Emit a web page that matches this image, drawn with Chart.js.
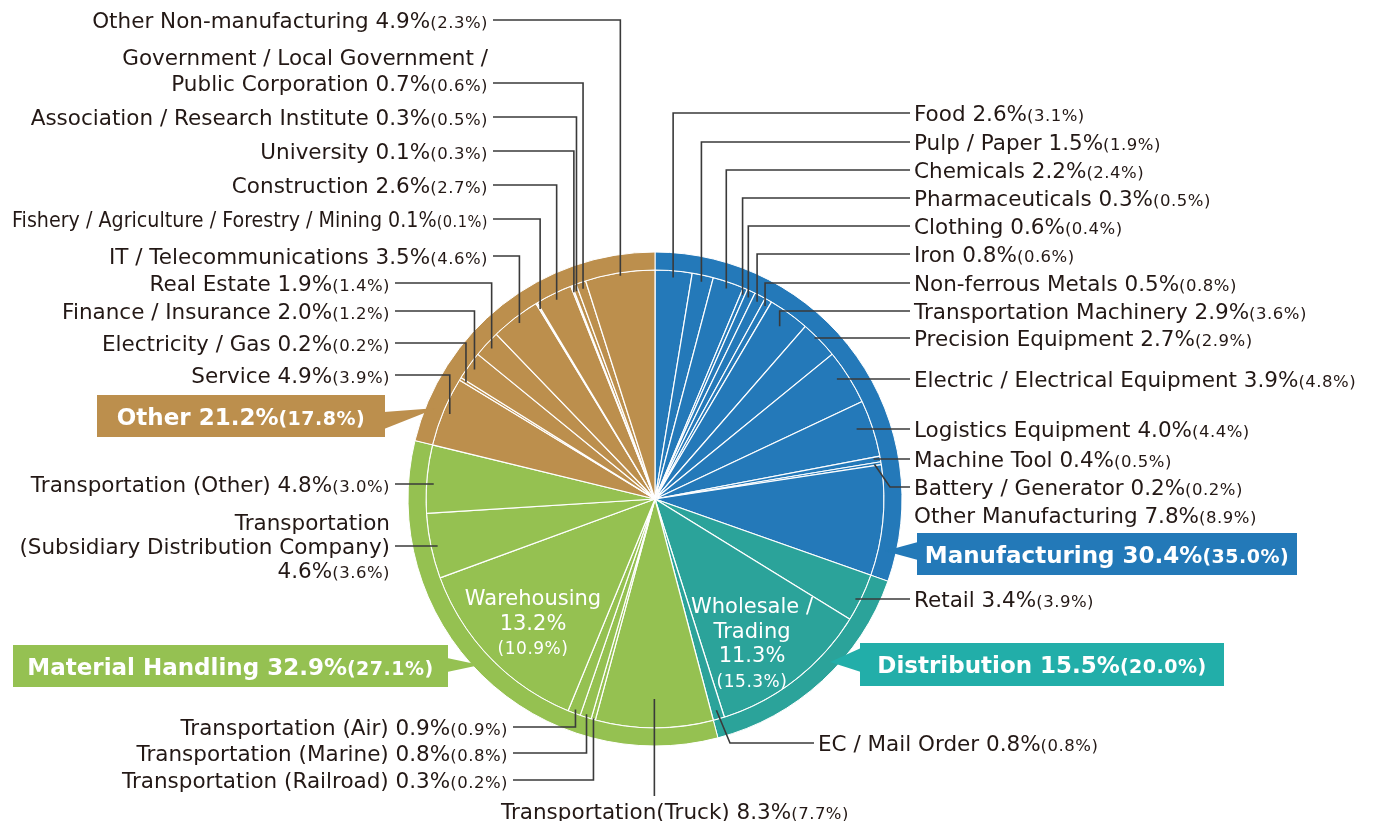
<!DOCTYPE html>
<html>
<head>
<meta charset="utf-8">
<script src="https://cdn.jsdelivr.net/npm/chart.js@4.4.0/dist/chart.umd.min.js"></script>
<style>
html, body { margin: 0; padding: 0; background: #fff; }
#wrap { width: 1386px; height: 821px; }
</style>
</head>
<body>
<div id="wrap"><canvas id="pieChart" width="1386" height="821"></canvas></div>
<script>
// groups (outer ring)
const groups = ['Manufacturing', 'Distribution', 'Material Handling', 'Other'];
const groupShares = [30.4, 15.5, 32.9, 21.2];
const groupPrev = [35.0, 20.0, 27.1, 17.8];

// categories (inner pie), clockwise from 12 o'clock
const categories = [
  'Food', 'Pulp / Paper', 'Chemicals', 'Pharmaceuticals', 'Clothing', 'Iron', 'Non-ferrous Metals',
  'Transportation Machinery', 'Precision Equipment', 'Electric / Electrical Equipment', 'Logistics Equipment',
  'Machine Tool', 'Battery / Generator', 'Other Manufacturing',
  'Retail', 'Wholesale /\nTrading', 'EC / Mail Order',
  'Transportation(Truck)', 'Transportation (Railroad)', 'Transportation (Marine)', 'Transportation (Air)',
  'Warehousing', 'Transportation\n(Subsidiary Distribution Company)', 'Transportation (Other)',
  'Service', 'Electricity / Gas', 'Finance / Insurance', 'Real Estate', 'IT / Telecommunications',
  'Fishery / Agriculture / Forestry / Mining', 'Construction', 'University', 'Association / Research Institute',
  'Government / Local Government /\nPublic Corporation', 'Other Non-manufacturing'
];
const shares = [2.6, 1.5, 2.2, 0.3, 0.6, 0.8, 0.5, 2.9, 2.7, 3.9, 4.0, 0.4, 0.2, 7.8,
  3.4, 11.3, 0.8,
  8.3, 0.3, 0.8, 0.9, 13.2, 4.6, 4.8,
  4.9, 0.2, 2.0, 1.9, 3.5, 0.1, 2.6, 0.1, 0.3, 0.7, 4.9];
const prevShares = [3.1, 1.9, 2.4, 0.5, 0.4, 0.6, 0.8, 3.6, 2.9, 4.8, 4.4, 0.5, 0.2, 8.9,
  3.9, 15.3, 0.8,
  7.7, 0.2, 0.8, 0.9, 10.9, 3.6, 3.0,
  3.9, 0.2, 1.2, 1.4, 4.6, 0.1, 2.7, 0.3, 0.5, 0.6, 2.3];
const categoryGroup = [0,0,0,0,0,0,0,0,0,0,0,0,0,0, 1,1,1, 2,2,2,2,2,2,2, 3,3,3,3,3,3,3,3,3,3,3];

const groupColors = ['#2479b9', '#2ba39a', '#95c151', '#bc8f4d'];
const boxColors = ['#2379b8', '#22aea9', '#95c152', '#bc8f4d'];

const FONT = '"DejaVu Sans", "Noto Sans", sans-serif';
const INK = '#231815';

// label placement, same order as categories
const labelLayout = [
  {x: 914, y: 113, align: 'left', lead: 'elbow'},
  {x: 914, y: 142, align: 'left', lead: 'elbow'},
  {x: 914, y: 170, align: 'left', lead: 'elbow'},
  {x: 914, y: 198, align: 'left', lead: 'elbow'},
  {x: 914, y: 226, align: 'left', lead: 'elbow'},
  {x: 914, y: 254, align: 'left', lead: 'elbow'},
  {x: 914, y: 283, align: 'left', lead: 'elbow'},
  {x: 914, y: 311, align: 'left', lead: 'elbow', r: 213},
  {x: 914, y: 338, align: 'left', lead: 'h'},
  {x: 914, y: 379, align: 'left', lead: 'h', r: 215},
  {x: 914, y: 429, align: 'left', lead: 'h', r: 212},
  {x: 914, y: 459, align: 'left', lead: 'h'},
  {x: 914, y: 487, align: 'left', lead: 'knee', kx: 890},
  {x: 914, y: 515, align: 'left', lead: 'none'},
  {x: 914, y: 599, align: 'left', lead: 'h'},
  {x: 752, y: 605, align: 'center', lead: 'inside'},
  {x: 818, y: 743, align: 'left', lead: 'knee', kx: 730, r: 220},
  {x: 675, y: 811, align: 'center', lead: 'down', r: 200},
  {x: 508, y: 780, align: 'right', lead: 'elbow', r: 228},
  {x: 508, y: 753, align: 'right', lead: 'elbow', r: 226},
  {x: 508, y: 727, align: 'right', lead: 'elbow', r: 225},
  {x: 533, y: 597, align: 'center', lead: 'inside'},
  {x: 390, y: 522, align: 'right', lead: 'h', leadY: 546, valueLine: true, lineH: 24},
  {x: 390, y: 484, align: 'right', lead: 'h'},
  {x: 390, y: 375, align: 'right', lead: 'elbow'},
  {x: 390, y: 343, align: 'right', lead: 'elbow'},
  {x: 390, y: 311, align: 'right', lead: 'elbow'},
  {x: 390, y: 283, align: 'right', lead: 'elbow'},
  {x: 488, y: 256, align: 'right', lead: 'elbow'},
  {x: 488, y: 219, align: 'right', lead: 'elbow', fit: 476},
  {x: 488, y: 185, align: 'right', lead: 'elbow'},
  {x: 488, y: 151, align: 'right', lead: 'elbow'},
  {x: 488, y: 117, align: 'right', lead: 'elbow'},
  {x: 488, y: 57, align: 'right', lead: 'elbow', leadY: 83, lineH: 26},
  {x: 488, y: 20, align: 'right', lead: 'elbow', r: 226}
];

// group boxes: rect + pointer wedge
const groupBoxes = [
  {x: 917, y: 533, w: 380, h: 42, side: 'left', y1: 542, y2: 560, tip: [885, 551]},
  {x: 860, y: 643, w: 364, h: 43, side: 'left', y1: 648, y2: 672, tip: [830, 662]},
  {x: 13, y: 645, w: 435, h: 42, side: 'right', y1: 658, y2: 672, tip: [480, 665]},
  {x: 97, y: 395, w: 288, h: 42, side: 'right', y1: 412, y2: 429, tip: [437, 408]}
];

function fmt(v) { return v.toFixed(1) + '%'; }

function drawParts(ctx, parts, x, y, align, fit) {
  const widths = parts.map(p => {
    ctx.font = p.font;
    ctx.letterSpacing = p.ls || '0px';
    return ctx.measureText(p.text).width;
  });
  const total = widths.reduce((a, b) => a + b, 0);
  let sx = 1;
  if (fit && total > fit) sx = fit / total;
  ctx.save();
  ctx.translate(x, y);
  ctx.scale(sx, 1);
  let cx = align === 'right' ? -total : (align === 'center' ? -total / 2 : 0);
  ctx.textAlign = 'left';
  ctx.textBaseline = 'alphabetic';
  parts.forEach((p, i) => {
    ctx.font = p.font;
    ctx.letterSpacing = p.ls || '0px';
    ctx.fillText(p.text, cx, 0);
    cx += widths[i];
  });
  ctx.restore();
  ctx.letterSpacing = '0px';
  return total * sx;
}

const labelPlugin = {
  id: 'pieLabels',
  afterDatasetsDraw(chart) {
    const ctx = chart.ctx;
    const arcs = chart.getDatasetMeta(1).data;
    const mainFont = '21.5px ' + FONT;
    const smallFont = '16.5px ' + FONT;

    // leader lines + labels
    categories.forEach((name, i) => {
      const L = labelLayout[i];
      const arc = arcs[i];
      const mid = (arc.startAngle + arc.endAngle) / 2;
      const r = L.r || arc.outerRadius * 0.97;
      const px = arc.x + Math.cos(mid) * r;
      const py = arc.y + Math.sin(mid) * r;
      const lines = name.split('\n');
      const lineH = L.lineH || 26;

      if (L.lead === 'inside') {
        ctx.fillStyle = '#fff';
        const all = lines.concat([fmt(shares[i])]);
        all.forEach((t, k) => {
          drawParts(ctx, [{text: t, font: '21px ' + FONT}], L.x, L.y + 8 + k * 24.5, 'center');
        });
        drawParts(ctx, [{text: '(' + fmt(prevShares[i]) + ')', font: '17px ' + FONT, ls: '0.5px'}],
          L.x, L.y + 8 + all.length * 24.5, 'center');
        return;
      }

      // text
      ctx.fillStyle = INK;
      let textLines = lines.map(t => [{text: t, font: mainFont}]);
      const valueParts = [
        {text: fmt(shares[i]), font: mainFont},
        {text: '(' + fmt(prevShares[i]) + ')', font: smallFont, ls: '0.5px'}
      ];
      if (L.valueLine) {
        textLines.push(valueParts);
      } else {
        const last = textLines[textLines.length - 1];
        last[0].text += ' ';
        textLines[textLines.length - 1] = last.concat(valueParts);
      }
      textLines.forEach((parts, k) => {
        drawParts(ctx, parts, L.x, L.y + 8 + k * lineH, L.align, L.fit);
      });

      // leader
      if (L.lead === 'none') return;
      const ly = L.leadY || L.y;
      const sx = L.align === 'right' ? L.x + 5 : L.x - 4;
      ctx.strokeStyle = '#3a3a3a';
      ctx.lineWidth = 1.6;
      ctx.beginPath();
      if (L.lead === 'elbow') {
        ctx.moveTo(sx, ly);
        ctx.lineTo(px, ly);
        ctx.lineTo(px, py);
      } else if (L.lead === 'h') {
        ctx.moveTo(sx, ly);
        ctx.lineTo(px, ly);
      } else if (L.lead === 'knee') {
        ctx.moveTo(sx, ly);
        ctx.lineTo(L.kx, ly);
        ctx.lineTo(px, py);
      } else if (L.lead === 'down') {
        ctx.moveTo(px, py);
        ctx.lineTo(px, L.y - 15);
      }
      ctx.stroke();
    });

    // group boxes
    groups.forEach((g, i) => {
      const B = groupBoxes[i];
      ctx.fillStyle = boxColors[i];
      ctx.fillRect(B.x, B.y, B.w, B.h);
      const edge = B.side === 'left' ? B.x + 1 : B.x + B.w - 1;
      ctx.beginPath();
      ctx.moveTo(edge, B.y1);
      ctx.lineTo(B.tip[0], B.tip[1]);
      ctx.lineTo(edge, B.y2);
      ctx.closePath();
      ctx.fill();
      ctx.fillStyle = '#fff';
      drawParts(ctx, [
        {text: g + ' ' + fmt(groupShares[i]), font: 'bold 23px ' + FONT},
        {text: '(' + fmt(groupPrev[i]) + ')', font: 'bold 19px ' + FONT, ls: '0.5px'}
      ], B.x + B.w / 2, B.y + B.h / 2 + 8.5, 'center');
    });
  }
};

const ctxP = document.getElementById('pieChart').getContext('2d');
const myPieChart = new Chart(ctxP, {
  type: 'pie',
  data: {
    labels: categories,
    datasets: [
      {
        label: 'Group',
        data: groupShares,
        backgroundColor: groupColors,
        borderColor: '#ffffff',
        borderWidth: 1,
        weight: 18
      },
      {
        label: 'Category',
        data: shares,
        backgroundColor: categoryGroup.map(g => groupColors[g]),
        borderColor: '#ffffff',
        borderWidth: 1.2,
        weight: 229
      }
    ]
  },
  options: {
    responsive: false,
    animation: false,
    radius: 247,
    layout: { padding: { left: 408, right: 484, top: 252, bottom: 75 } },
    plugins: {
      legend: { display: false },
      tooltip: { enabled: false }
    }
  },
  plugins: [labelPlugin]
});
</script>
</body>
</html>
